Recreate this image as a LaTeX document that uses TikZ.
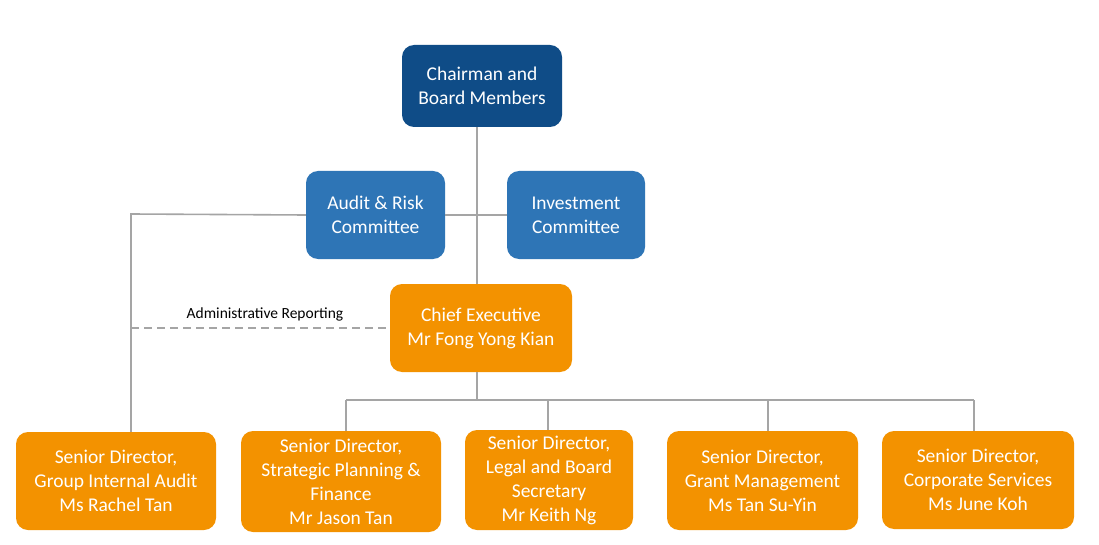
\documentclass[tikz,border=0pt]{standalone}
\usepackage{fontspec}
\setmainfont{Carlito}
\definecolor{darkblue}{HTML}{0F4C87}
\definecolor{midblue}{HTML}{2E75B6}
\definecolor{orgbox}{HTML}{F39200}
\definecolor{linegray}{HTML}{A5A5A5}
\tikzset{
  box/.style={rounded corners=12pt, text=white, align=center, inner sep=0pt,
    font=\fontsize{19.5}{24}\selectfont},
  board/.style={box, fill=darkblue},
  committee/.style={box, fill=midblue},
  staff/.style={box, fill=orgbox},
  link/.style={draw=linegray, line width=1.6pt},
  adminlink/.style={link, dash pattern=on 8pt off 5pt},
}
\begin{document}
\begin{tikzpicture}[x=1pt,y=-1pt]
\useasboundingbox[fill=white] (0,0) rectangle (1099,545);
\coordinate (vx) at (477,0);
\coordinate (L) at (131,214);
\coordinate (bus) at (477,400);
\coordinate (d2) at (346,400);
\coordinate (d3) at (548,400);
\coordinate (d4) at (768,400);
\coordinate (d5) at (974,400);

\node[board, minimum width=160pt, minimum height=82pt] (chair) at (482,86) {Chairman and\\Board Members};
\node[committee, minimum width=139pt, minimum height=88pt] (audit) at (375.5,215) {Audit \& Risk\\Committee};
\node[committee, minimum width=138pt, minimum height=88pt] (invest) at (576,215) {Investment\\Committee};
\node[staff, minimum width=182pt, minimum height=88pt] (ceo) at (481,328) {Chief Executive\\Mr Fong Yong Kian};
\node[staff, minimum width=200pt, minimum height=98pt] (b1) at (116,481) {Senior Director,\\Group Internal Audit\\Ms Rachel Tan};
\node[staff, minimum width=200pt, minimum height=101pt] (b2) at (341,481.5) {Senior Director,\\Strategic Planning \&\\Finance\\Mr Jason Tan};
\node[staff, minimum width=168pt, minimum height=100pt] (b3) at (549,480) {Senior Director,\\Legal and Board\\Secretary\\Mr Keith Ng};
\node[staff, minimum width=191pt, minimum height=99pt] (b4) at (762.5,480.5) {Senior Director,\\Grant Management\\Ms Tan Su-Yin};
\node[staff, minimum width=192pt, minimum height=98pt] (b5) at (978,480) {Senior Director,\\Corporate Services\\Ms June Koh};

\node[font=\fontsize{15.5}{18}\selectfont, text=black, inner sep=0pt] (adminlabel) at (265,314) {Administrative Reporting};

\draw[link] (chair.south -| vx) -- (ceo.north -| vx);
\draw[link] (audit.west) -- (L) -- (L |- b1.north);
\draw[link] (audit.east) -- (invest.west);
\draw[adminlink] (ceo.west -| L) -- (ceo.west);
\draw[link] (ceo.south -| bus) -- (bus);
\draw[link] (d2) -- (d5);
\draw[link] (d2) -- (d2 |- b2.north);
\draw[link] (d3) -- (d3 |- b3.north);
\draw[link] (d4) -- (d4 |- b4.north);
\draw[link] (d5) -- (d5 |- b5.north);
\end{tikzpicture}
\end{document}
